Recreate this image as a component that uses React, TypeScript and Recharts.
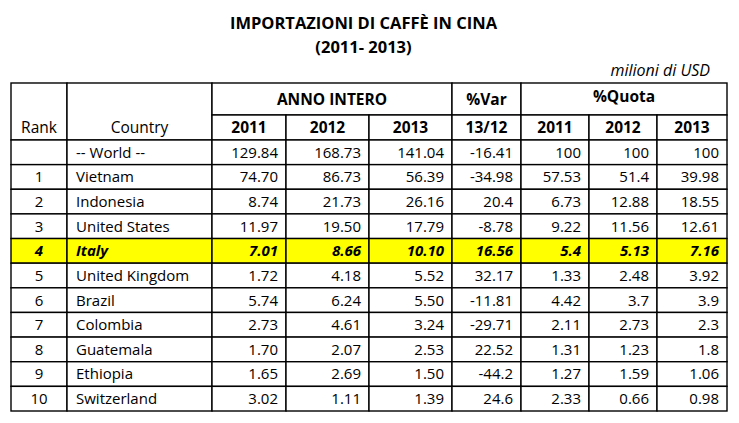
import React from 'react';
import { ScatterChart, Scatter, XAxis, YAxis } from 'recharts';

// --- data ---
const ranks = ['', '1', '2', '3', '4', '5', '6', '7', '8', '9', '10'];
const countries = ['-- World --', 'Vietnam', 'Indonesia', 'United States', 'Italy', 'United Kingdom', 'Brazil', 'Colombia', 'Guatemala', 'Ethiopia', 'Switzerland'];
const anno2011 = ['129.84', '74.70', '8.74', '11.97', '7.01', '1.72', '5.74', '2.73', '1.70', '1.65', '3.02'];
const anno2012 = ['168.73', '86.73', '21.73', '19.50', '8.66', '4.18', '6.24', '4.61', '2.07', '2.69', '1.11'];
const anno2013 = ['141.04', '56.39', '26.16', '17.79', '10.10', '5.52', '5.50', '3.24', '2.53', '1.50', '1.39'];
const var1312 = ['-16.41', '-34.98', '20.4', '-8.78', '16.56', '32.17', '-11.81', '-29.71', '22.52', '-44.2', '24.6'];
const quota2011 = ['100', '57.53', '6.73', '9.22', '5.4', '1.33', '4.42', '2.11', '1.31', '1.27', '2.33'];
const quota2012 = ['100', '51.4', '12.88', '11.56', '5.13', '2.48', '3.7', '2.73', '1.23', '1.59', '0.66'];
const quota2013 = ['100', '39.98', '18.55', '12.61', '7.16', '3.92', '3.9', '2.3', '1.8', '1.06', '0.98'];
const yearLabels = ['2011', '2012', '2013', '13/12', '2011', '2012', '2013'];
const highlightCountry = 'Italy';

// --- layout ---
const W = 739;
const H = 423;
const M = { top: 83, left: 11, right: 12, bottom: 12 };
const COLS = [56, 145, 74, 83, 83, 69, 68, 68, 70];
const ROWS = [32, 25, 24.64, 24.64, 24.64, 24.64, 24.64, 24.64, 24.64, 24.64, 24.64, 24.64, 24.64];
const FONT = '"Open Sans", "Noto Sans", sans-serif';
const sum = (a: number[], n: number) => a.slice(0, n).reduce((s, v) => s + v, 0);
const TW = sum(COLS, COLS.length);
const TH = sum(ROWS, ROWS.length);

type Cell = {
  x: number; y: number; w: number; h: number; text: string; size: number;
  align: 'left' | 'center' | 'right'; bold?: boolean; italic?: boolean; fill?: string; dy?: number;
};

function cell(col: number, row: number, text: string, o: Partial<Cell> & { cs?: number; rs?: number; textRow?: number } = {}): Cell {
  const cs = o.cs ?? 1, rs = o.rs ?? 1;
  const x0 = sum(COLS, col), w = sum(COLS, col + cs) - x0;
  const y0 = sum(ROWS, row), h = sum(ROWS, row + rs) - y0;
  let dy = o.dy ?? 0;
  if (o.textRow !== undefined) {
    const tc = sum(ROWS, o.textRow) + ROWS[o.textRow] / 2;
    dy = tc - (y0 + h / 2);
  }
  return {
    x: x0 + w / 2, y: y0 + h / 2, w, h, text, size: o.size ?? 15,
    align: o.align ?? 'center', bold: o.bold, italic: o.italic, fill: o.fill, dy,
  };
}

const cells: Cell[] = [
  cell(0, 0, 'Rank', { rs: 2, textRow: 1, size: 15.5 }),
  cell(1, 0, 'Country', { rs: 2, textRow: 1, size: 15.5 }),
  cell(2, 0, 'ANNO INTERO', { cs: 3, bold: true, size: 15.5 }),
  cell(5, 0, '%Var', { bold: true, size: 15.5 }),
  cell(6, 0, '%Quota', { cs: 3, bold: true, dy: -3, size: 15.5 }),
  ...yearLabels.map((t, i) => cell(i + 2, 1, t, { bold: true, size: 15.5 })),
];

countries.forEach((c, i) => {
  const hl = c === highlightCountry;
  const st = { bold: hl, italic: hl, fill: hl ? '#FFFF00' : '#fff' };
  const row = i + 2;
  cells.push(cell(0, row, ranks[i], st));
  cells.push(cell(1, row, c, { ...st, align: 'left' }));
  [anno2011, anno2012, anno2013, var1312, quota2011, quota2012, quota2013].forEach((arr, j) => {
    cells.push(cell(j + 2, row, arr[i], { ...st, align: 'right' }));
  });
});

function CellShape(props: any) {
  const { cx, cy, payload } = props;
  const p = payload as Cell;
  const x0 = cx - p.w / 2;
  const y0 = cy - p.h / 2;
  const tx = p.align === 'left' ? x0 + 9 : p.align === 'right' ? x0 + p.w - 8 : cx;
  const anchor = p.align === 'left' ? 'start' : p.align === 'right' ? 'end' : 'middle';
  return (
    <g>
      <rect x={x0} y={y0} width={p.w} height={p.h} fill={p.fill ?? '#fff'} stroke="#000" strokeWidth={1.4} />
      <text
        x={tx}
        y={cy + (p.dy ?? 0) + p.size * 0.36}
        textAnchor={anchor}
        fontFamily={FONT}
        fontSize={p.size}
        fontWeight={p.bold ? 700 : 400}
        fontStyle={p.italic ? 'italic' : 'normal'}
        fill="#000"
      >
        {p.text}
      </text>
    </g>
  );
}

export default function App() {
  return (
    <div style={{ position: 'absolute', left: 0, top: 0, width: W, height: H, background: '#fff', fontFamily: FONT }}>
      <div style={{ position: 'absolute', left: 0, width: 727, top: 11, textAlign: 'center', fontWeight: 700, fontSize: 16.5, lineHeight: '24px' }}>
        IMPORTAZIONI DI CAFFÈ IN CINA
        <br />
        (2011- 2013)
      </div>
      <div style={{ position: 'absolute', right: 29, top: 59, fontStyle: 'italic', fontSize: 16, lineHeight: '22px' }}>
        milioni di USD
      </div>
      <div style={{ position: 'absolute', left: 0, top: 0 }}>
        <ScatterChart width={W} height={H} margin={M}>
          <XAxis type="number" dataKey="x" domain={[0, TW]} hide />
          <YAxis type="number" dataKey="y" domain={[0, TH]} reversed hide />
          <Scatter data={cells} shape={CellShape} isAnimationActive={false} />
        </ScatterChart>
      </div>
    </div>
  );
}
